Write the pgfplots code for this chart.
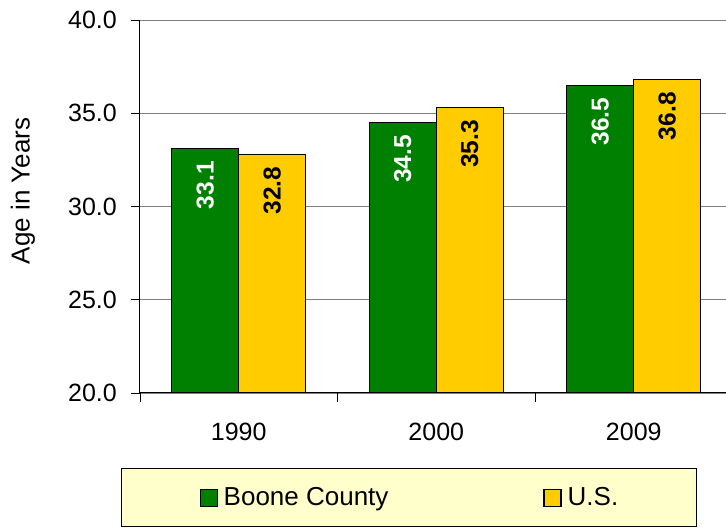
\documentclass[border=0pt]{standalone}
\usepackage{pgfplots}
\pgfplotsset{compat=1.18}
\usepackage{fontspec}
\setmainfont{Liberation Sans}
\definecolor{boone}{HTML}{008000}
\definecolor{usy}{HTML}{FFCC00}
\definecolor{legfill}{HTML}{FFFFCC}
\definecolor{gridgray}{HTML}{808080}
\begin{document}
\begin{tikzpicture}
\useasboundingbox (-140pt,-136pt) rectangle (586pt,393pt);
\begin{axis}[
  at={(0,0)}, anchor=south west,
  scale only axis, width=586pt, height=373pt,
  xmin=-0.5, xmax=2.467, ymin=20, ymax=40,
  ybar=0pt, bar width=67pt,
  axis x line*=bottom, axis y line*=left,
  axis line style={-, black, line width=1pt},
  tick align=outside,
  ytick={20,25,30,35,40},
  /pgf/number format/assume math mode=true,
  yticklabel style={/pgf/number format/fixed, /pgf/number format/fixed zerofill, /pgf/number format/precision=1, xshift=-14pt},
  ymajorgrids, grid style={draw=gridgray, line width=0.9pt},
  xtick={-0.5,0.5,1.5}, xticklabels={},
  extra x ticks={0,1,2}, extra x tick labels={1990,2000,2009},
  extra x tick style={major tick length=0pt, grid=none,
     tick label style={anchor=north, yshift=-30pt}},
  major tick length=9pt,
  tick style={black, line width=0.9pt},
  tick label style={font=\fontsize{25}{30}\selectfont, inner sep=0pt},
  ylabel={Age in Years},
  every axis y label/.style={at={(axis description cs:-0.1997,0.5416)}, rotate=90, anchor=center, font=\fontsize{26}{31}\selectfont},
  every node near coord/.append style={rotate=90, anchor=east, inner xsep=12pt, inner ysep=0pt, font=\fontsize{24.5}{28}\selectfont\bfseries},
  legend columns=2,
  legend image code/.code={\draw[#1, draw=black, line width=1.2pt] (0pt,-9pt) rectangle (17pt,8pt);},
  legend style={at={(axis description cs:-0.0324,-0.2011)}, anchor=north west,
     fill=legfill, draw=black, line width=1pt, inner xsep=78pt, inner ysep=19pt,
     font=\fontsize{26}{31}\selectfont,
     nodes={inner sep=0pt},
     /tikz/every odd column/.append style={column sep=6pt},
     /tikz/every even column/.append style={column sep=155pt}},
]
\addplot[fill=boone, draw=black, line width=1.3pt, nodes near coords,
  every node near coord/.append style={white}]
  coordinates {(0,33.1) (1,34.5) (2,36.5)};
\addplot[fill=usy, draw=black, line width=1.3pt, nodes near coords,
  every node near coord/.append style={black}]
  coordinates {(0,32.8) (1,35.3) (2,36.8)};
\legend{Boone County, U.S.}
\end{axis}
\end{tikzpicture}
\end{document}
